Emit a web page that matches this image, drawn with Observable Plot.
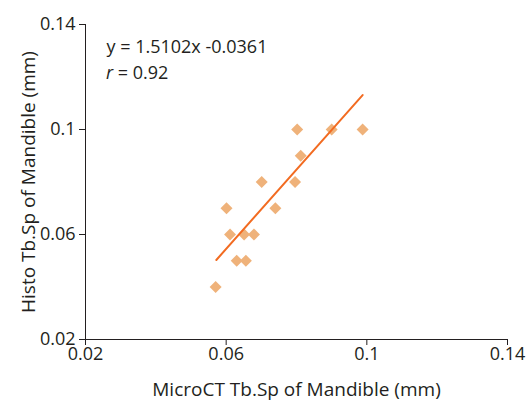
<!DOCTYPE html>
<html>
<head>
<meta charset="utf-8">
<script src="https://cdn.jsdelivr.net/npm/d3@7"></script>
<script src="https://cdn.jsdelivr.net/npm/@observablehq/plot@0.6"></script>
<style>
  html, body { margin: 0; padding: 0; background: #fff; }
  #chart svg { display: block; }
</style>
</head>
<body>
<div id="chart"></div>
<script>
// MicroCT vs Histo Tb.Sp of Mandible (mm)
const microCT = [0.057, 0.063, 0.0656, 0.0601, 0.0611, 0.0651, 0.0679, 0.0701, 0.074, 0.0796, 0.0812, 0.0802, 0.090, 0.0988];
const histo   = [0.040, 0.050, 0.050,  0.070,  0.060,  0.060,  0.060,  0.080,  0.070, 0.080,  0.090,  0.100,  0.100, 0.100];

// regression line endpoints (as drawn)
const lineX = [0.0572, 0.0988];
const lineY = [0.0503, 0.1131];

const tickValues = [0.02, 0.06, 0.1, 0.14];
const tickLabels = ["0.02", "0.06", "0.1", "0.14"];

const xLabel = "MicroCT Tb.Sp of Mandible (mm)";
const yLabel = "Histo Tb.Sp of Mandible (mm)";
const equationText = "y = 1.5102x -0.0361";
const rValue = "0.92";

const points = microCT.map((x, i) => ({x, y: histo[i]}));
const line = lineX.map((x, i) => ({x, y: lineY[i]}));

const font = "'Open Sans', 'Noto Sans', sans-serif";
const ink = "#231f20";
const tickFs = 18;
const labelFs = 19;
const noteFs = 18;

const fmt = d => tickLabels[tickValues.indexOf(d)];

const plot = Plot.plot({
  width: 527,
  height: 403,
  marginLeft: 85,
  marginRight: 20,
  marginTop: 24,
  marginBottom: 64,
  style: {fontFamily: font, background: "#fff"},
  x: {domain: [0.02, 0.14]},
  y: {domain: [0.02, 0.14]},
  marks: [
    Plot.axisX({ticks: tickValues, tickFormat: fmt, tickSize: 6, tickPadding: 2, fontSize: tickFs, stroke: ink, fill: ink, label: null}),
    Plot.axisX({ticks: [], label: xLabel, labelAnchor: "center", labelOffset: 56, labelArrow: "none", fontSize: labelFs, fill: ink}),
    Plot.axisY({ticks: tickValues, tickFormat: fmt, tickSize: 6, tickPadding: 4, fontSize: tickFs, stroke: ink, fill: ink, label: null}),
    Plot.axisY({ticks: [], label: yLabel, labelAnchor: "center", labelOffset: 64, labelArrow: "none", fontSize: labelFs, fill: ink}),
    Plot.ruleX([0.02], {stroke: ink, strokeWidth: 1}),
    Plot.ruleY([0.02], {stroke: ink, strokeWidth: 1}),
    Plot.dot(points, {x: "x", y: "y", symbol: "diamond2", r: 5.4, fill: "#efb27a", stroke: "none"}),
    Plot.line(line, {x: "x", y: "y", stroke: "#f26b21", strokeWidth: 2}),
    Plot.text([equationText], {frameAnchor: "top-left", text: d => d, dx: 21, dy: 23, lineAnchor: "middle", textAnchor: "start", fontSize: noteFs, fill: ink})
  ]
});

// r = 0.92 with italic r, as real text
const svg = d3.select(plot);
const t = svg.append("text")
  .attr("x", 106).attr("y", 78.5)
  .attr("text-anchor", "start")
  .attr("font-family", font).attr("font-size", noteFs).attr("fill", ink);
t.append("tspan").attr("font-style", "italic").text("r");
t.append("tspan").text(" = " + rValue);

document.getElementById("chart").appendChild(plot);
</script>
</body>
</html>
